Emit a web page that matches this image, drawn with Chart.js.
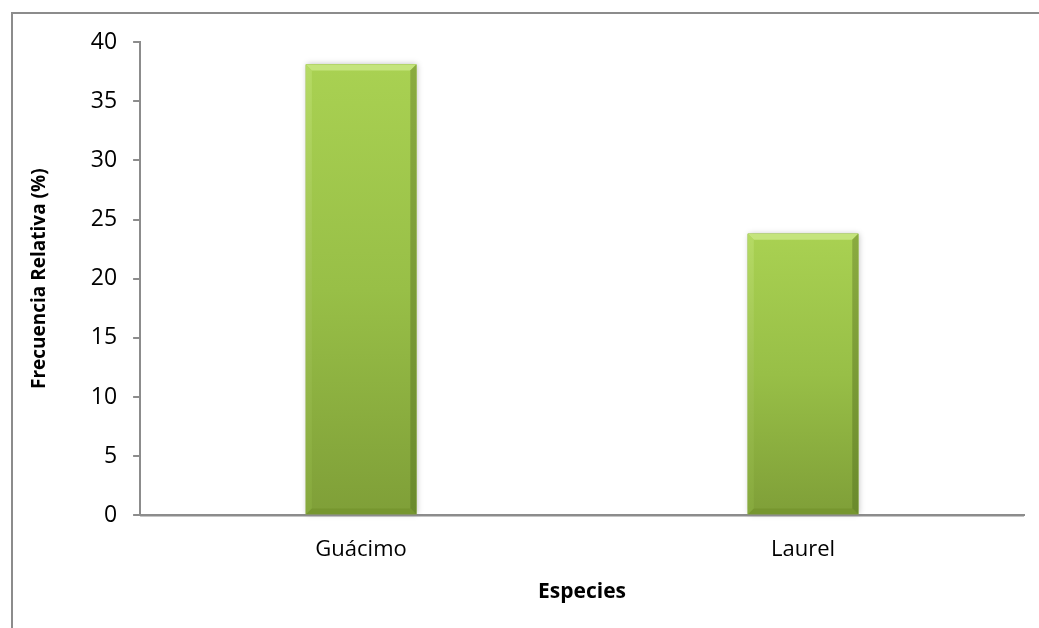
<!DOCTYPE html>
<html>
<head>
<meta charset="utf-8">
<script src="https://cdn.jsdelivr.net/npm/chart.js@4"></script>
<style>
  html, body { margin: 0; padding: 0; background: #fff; }
  #wrap { width: 1039px; height: 628px; position: relative; }
</style>
</head>
<body>
<div id="wrap"><canvas id="g1" width="1039" height="628"></canvas></div>
<script>
const especies = ['Guácimo', 'Laurel'];
const frecuencia = [38.1, 23.8];
const yTicks = [0, 5, 10, 15, 20, 25, 30, 35, 40];

const font = "'Open Sans', 'Liberation Sans', sans-serif";

// marco exterior (izquierda y arriba, como en la imagen)
const marco = {
    id: 'marco',
    beforeDraw(chart) {
        const c = chart.ctx;
        c.save();
        c.fillStyle = '#fff';
        c.fillRect(0, 0, chart.width, chart.height);
        c.strokeStyle = '#8c8c8c';
        c.lineWidth = 2;
        c.beginPath();
        c.moveTo(12, chart.height);
        c.lineTo(12, 13);
        c.lineTo(chart.width, 13);
        c.stroke();
        c.restore();
    }
};

// relieve de las barras
const relieve = {
    id: 'relieve',
    afterDatasetsDraw(chart) {
        const c = chart.ctx;
        chart.getDatasetMeta(0).data.forEach((bar) => {
            const { x, y, base, width } = bar.getProps(['x', 'y', 'base', 'width'], true);
            const l = x - width / 2, r = x + width / 2, t = y, b = base;
            const e = 6;
            c.save();
            // sombra
            c.shadowColor = 'rgba(0,0,0,0.25)';
            c.shadowBlur = 6;
            c.shadowOffsetX = 1;
            c.fillStyle = '#8fb43f';
            c.fillRect(l, t, r - l, b - t);
            c.shadowColor = 'transparent';
            // cara
            const g = c.createLinearGradient(0, t, 0, b);
            g.addColorStop(0, '#a9d152');
            g.addColorStop(0.5, '#98bf47');
            g.addColorStop(1, '#7f9f38');
            c.fillStyle = g;
            c.fillRect(l, t, r - l, b - t);
            // bisel superior
            c.fillStyle = '#c4e47c';
            c.beginPath();
            c.moveTo(l, t); c.lineTo(r, t); c.lineTo(r - e, t + e); c.lineTo(l + e, t + e);
            c.closePath(); c.fill();
            // bisel izquierdo
            const gl = c.createLinearGradient(0, t, 0, b);
            gl.addColorStop(0, '#b5da64');
            gl.addColorStop(1, '#86a83d');
            c.fillStyle = gl;
            c.beginPath();
            c.moveTo(l, t); c.lineTo(l + e, t + e); c.lineTo(l + e, b - e); c.lineTo(l, b);
            c.closePath(); c.fill();
            // bisel derecho
            const gr = c.createLinearGradient(0, t, 0, b);
            gr.addColorStop(0, '#8aab40');
            gr.addColorStop(1, '#6a8a2c');
            c.fillStyle = gr;
            c.beginPath();
            c.moveTo(r, t); c.lineTo(r - e, t + e); c.lineTo(r - e, b - e); c.lineTo(r, b);
            c.closePath(); c.fill();
            // bisel inferior
            c.fillStyle = '#76962f';
            c.beginPath();
            c.moveTo(l, b); c.lineTo(l + e, b - e); c.lineTo(r - e, b - e); c.lineTo(r, b);
            c.closePath(); c.fill();
            c.restore();
        });
        // redibujar eje x encima
        const xs = chart.scales.x;
        c.save();
        c.strokeStyle = '#8c8c8c';
        c.lineWidth = 2;
        c.beginPath();
        c.moveTo(chart.chartArea.left, chart.chartArea.bottom);
        c.lineTo(xs.right, chart.chartArea.bottom);
        c.stroke();
        c.restore();
    }
};

new Chart(document.getElementById('g1').getContext('2d'), {
    type: 'bar',
    data: {
        labels: especies,
        datasets: [
            {
                label: 'Frecuencia Relativa (%)',
                data: frecuencia,
                backgroundColor: '#98bf47',
                barPercentage: 0.25,
                categoryPercentage: 1
            }
        ]
    },
    options: {
        responsive: false,
        animation: false,
        layout: {
            padding: { top: 42, right: 15, bottom: 19, left: 24 }
        },
        plugins: {
            legend: { display: false },
            tooltip: { enabled: false }
        },
        scales: {
            x: {
                grid: { display: false, tickLength: 0 },
                border: { display: true, color: '#8c8c8c', width: 2 },
                ticks: {
                    color: '#000',
                    font: { family: font, size: 22 },
                    padding: 21
                },
                title: {
                    display: true,
                    text: 'Especies',
                    color: '#000',
                    font: { family: font, size: 21, weight: 'bold' },
                    padding: { top: -4, bottom: 4 }
                }
            },
            y: {
                min: 0,
                max: 40,
                afterBuildTicks(axis) {
                    axis.ticks = yTicks.map((v) => ({ value: v }));
                },
                grid: {
                    drawOnChartArea: false,
                    drawTicks: true,
                    tickLength: 7,
                    color: '#8c8c8c',
                    lineWidth: 2
                },
                border: { display: true, color: '#8c8c8c', width: 2 },
                ticks: {
                    color: '#000',
                    font: { family: font, size: 23 },
                    padding: 16
                },
                title: {
                    display: true,
                    text: 'Frecuencia Relativa (%)',
                    color: '#000',
                    font: { family: font, size: 19, weight: 'bold' },
                    padding: { top: 4, bottom: 24 }
                }
            }
        }
    },
    plugins: [marco, relieve]
});
</script>
</body>
</html>
